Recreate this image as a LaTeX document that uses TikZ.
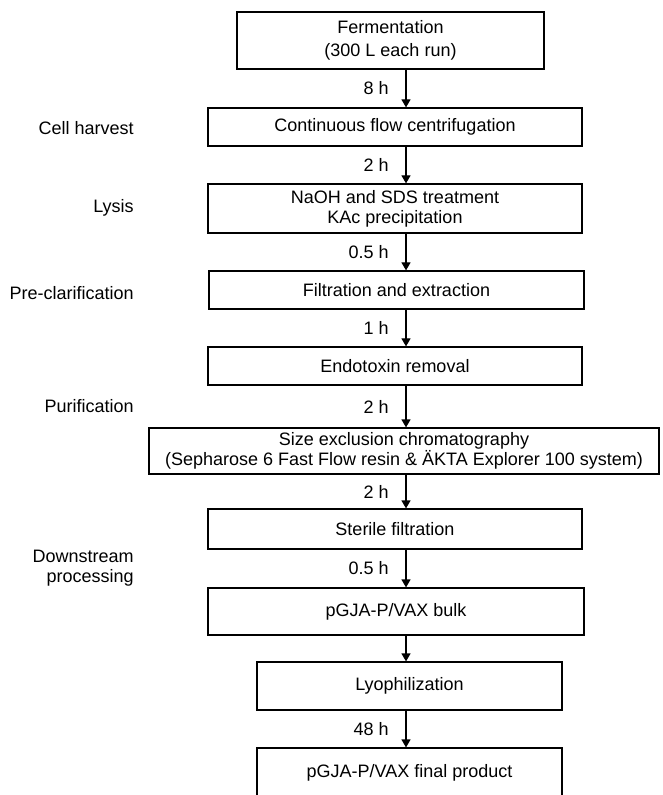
\documentclass[tikz,border=0pt]{standalone}
\usepackage{fontspec}
\setmainfont{Liberation Sans}
\usetikzlibrary{positioning}
\usetikzlibrary{arrows, arrows.meta}

\begin{document}
\begin{tikzpicture}[x=0.5pt, y=-0.5pt,
    stage/.style={draw, line width=0.6pt, align=center, inner sep=0pt,
        font=\fontsize{9}{10}\selectfont},
    phase/.style={anchor=east, align=right, inner sep=0pt,
        font=\fontsize{9}{10}\selectfont},
    flow/.style={-{Triangle[length=4pt, width=4.5pt]}, line width=0.6pt},
    hours/.style={midway, left=5pt, font=\fontsize{9}{10}\selectfont}]
    \clip (0,0) rectangle (662,795);
    \coordinate (col) at (406,0);

    % process steps
    \node[stage, minimum width=153.5pt, minimum height=28.5pt] (ferment) at (390.5,40.5)
        {Fermentation\\[1.5pt](300 L each run)};
    \node[stage, minimum width=187pt, minimum height=19pt] (centri) at (395,127)
        {Continuous flow centrifugation};
    \node[stage, minimum width=187pt, minimum height=24.5pt] (lysis) at (395,208.5)
        {NaOH and SDS treatment\\KAc precipitation};
    \node[stage, minimum width=187.5pt, minimum height=19pt] (filter) at (396.5,290)
        {Filtration and extraction};
    \node[stage, minimum width=187pt, minimum height=19pt] (endo) at (395,366)
        {Endotoxin removal};
    \node[stage, minimum width=255pt, minimum height=23pt] (sec) at (404,451)
        {Size exclusion chromatography\\(Sepharose 6 Fast Flow resin \& ÄKTA Explorer 100 system)};
    \node[stage, minimum width=187pt, minimum height=20pt] (sterile) at (395,529)
        {Sterile filtration};
    \node[stage, minimum width=188pt, minimum height=23.5pt] (bulk) at (396,611.5)
        {pGJA-P/VAX bulk};
    \node[stage, minimum width=152.5pt, minimum height=24pt] (lyo) at (409.5,686)
        {Lyophilization};
    \node[stage, minimum width=152.5pt, minimum height=25pt] (final) at (409.5,773)
        {pGJA-P/VAX final product};

    % phases on the left
    \node[phase] (harvest) at (134,128) {Cell harvest};
    \node[phase] (lysisl) at (134,208) {Lysis};
    \node[phase] (preclar) at (134,293) {Pre-clarification};
    \node[phase] (purif) at (134,406) {Purification};
    \node[phase] (down) at (134,568.5) {Downstream\\processing};

    % arrows with times
    \draw[flow] (ferment.south -| col) -- (centri.north -| col) node[hours] {8 h};
    \draw[flow] (centri.south -| col) -- (lysis.north -| col) node[hours] {2 h};
    \draw[flow] (lysis.south -| col) -- (filter.north -| col) node[hours] {0.5 h};
    \draw[flow] (filter.south -| col) -- (endo.north -| col) node[hours] {1 h};
    \draw[flow] (endo.south -| col) -- (sec.north -| col) node[hours] {2 h};
    \draw[flow] (sec.south -| col) -- (sterile.north -| col) node[hours] {2 h};
    \draw[flow] (sterile.south -| col) -- (bulk.north -| col) node[hours] {0.5 h};
    \draw[flow] (bulk.south -| col) -- (lyo.north -| col);
    \draw[flow] (lyo.south -| col) -- (final.north -| col) node[hours] {48 h};
\end{tikzpicture}
\end{document}
